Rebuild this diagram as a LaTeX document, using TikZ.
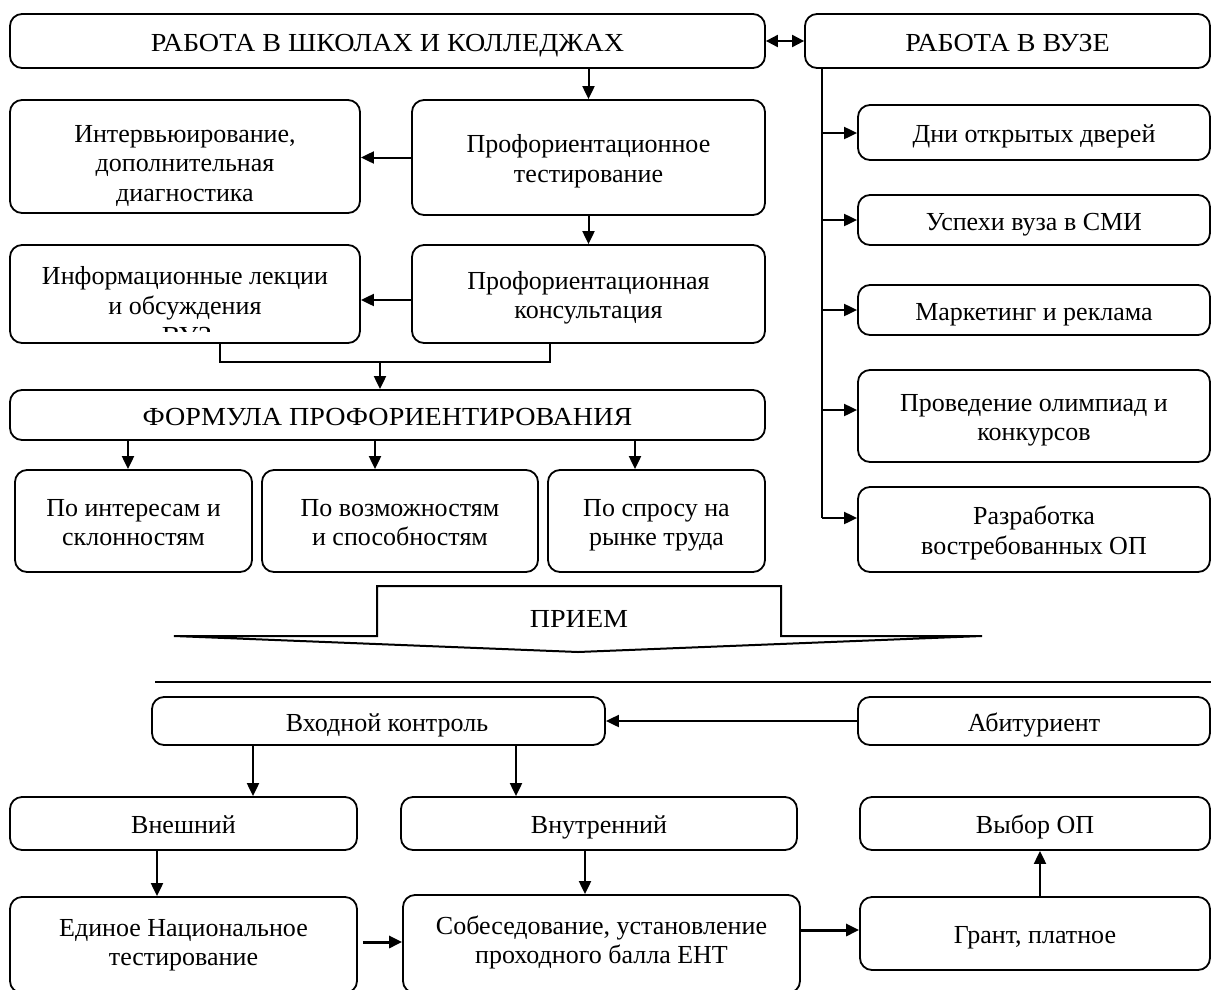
\documentclass[tikz,border=0pt]{standalone}
\usepackage{fontspec}
\setmainfont{Liberation Serif}
\newfontfamily\capsfont{Liberation Serif}[FakeStretch=1.08]
\usetikzlibrary{arrows.meta}
\newcommand{\boxfont}{\fontsize{26}{29.5}\selectfont}
\tikzset{
  box/.style={draw, line width=1.8pt, rounded corners=12pt, align=center,
    inner sep=0pt, font=\boxfont, text height=26pt, text depth=6pt},
  lines2/.style={text height=55.5pt},
  lines3/.style={text height=95pt},
  caps/.style={font=\capsfont\boxfont},
  lbl/.style={align=center, inner sep=0pt, font=\boxfont, text height=26pt, text depth=6pt},
  conn/.style={line width=2pt},
  arr/.style={line width=2pt, -{Triangle[length=13pt,width=12pt]}},
  arrboth/.style={line width=2pt, {Triangle[length=12pt,width=12pt]}-{Triangle[length=12pt,width=12pt]}},
}
\begin{document}
\begin{tikzpicture}[x=1pt,y=-1pt]
\useasboundingbox (0,0) rectangle (1211,989);
\clip (0,0) rectangle (1211,989);

% ---------- upper part: career guidance ----------
\node[box, caps, minimum width=755, minimum height=54] (school) at (387.5,41) {РАБОТА В ШКОЛАХ И КОЛЛЕДЖАХ};
\node[box, caps, minimum width=405, minimum height=54] (uni) at (1007.5,41) {РАБОТА В ВУЗЕ};

\node[box, lines3, minimum width=350, minimum height=113] (interv) at (185,156.5)
  {Интервьюирование,\\дополнительная\\диагностика};
\node[box, lines2, minimum width=353, minimum height=115] (test) at (588.5,157.5)
  {Профориентационное\\тестирование};

\node[box, minimum width=350, minimum height=98] (lect) at (185,294) {};
\node[lbl, lines2] (lecttext) at (185,289.5) {Информационные лекции\\и обсуждения};
\begin{scope}
  \clip (150,326) rectangle (230,331.5);
  \node[font=\capsfont\boxfont, inner sep=0pt, anchor=base] (lectcut) at (187,344) {ВУЗ};
\end{scope}
\node[box, lines2, minimum width=353, minimum height=98] (cons) at (588.5,294)
  {Профориентационная\\консультация};

\node[box, caps, minimum width=755, minimum height=50] (formula) at (387.5,415)
  {ФОРМУЛА ПРОФОРИЕНТИРОВАНИЯ};

\node[box, lines2, minimum width=237, minimum height=102] (p1) at (133.5,521) {По интересам и\\склонностям};
\node[box, lines2, minimum width=276, minimum height=102] (p2) at (400,521) {По возможностям\\и способностям};
\node[box, lines2, minimum width=217, minimum height=102] (p3) at (656.5,521) {По спросу на\\рынке труда};

% university column
\node[box, minimum width=352, minimum height=55] (r1) at (1034,132.5) {Дни открытых дверей};
\node[box, minimum width=352, minimum height=50] (r2) at (1034,220) {Успехи вуза в СМИ};
\node[box, minimum width=352, minimum height=50] (r3) at (1034,310) {Маркетинг и реклама};
\node[box, lines2, minimum width=352, minimum height=92] (r4) at (1034,416) {Проведение олимпиад и\\конкурсов};
\node[box, lines2, minimum width=352, minimum height=85] (r5) at (1034,529.5) {Разработка\\востребованных ОП};

% connectors of the upper part
\draw[arrboth] (school.east) -- (uni.west);
\draw[arr] (school.south -| test.north) -- (test.north);
\draw[arr] (test.west) -- (test.west -| interv.east);
\draw[arr] (test.south) -- (cons.north);
\draw[arr] ([yshift=-6pt]cons.west) -- ([yshift=-6pt]cons.west -| lect.east);

\coordinate (jl) at (220,362);
\coordinate (jr) at (550,362);
\coordinate (jm) at (380,362);
\draw[conn] (lect.south -| jl) -- (jl) -- (jr) -- (cons.south -| jr);
\draw[arr] (jm) -- (jm |- formula.north);

\coordinate (f1) at (128,0);
\coordinate (f2) at (375,0);
\coordinate (f3) at (635,0);
\draw[arr] (formula.south -| f1) -- (p1.north -| f1);
\draw[arr] (formula.south -| f2) -- (p2.north -| f2);
\draw[arr] (formula.south -| f3) -- (p3.north -| f3);

\coordinate (vtop) at (822,68);
\coordinate (v1) at (822,133);
\coordinate (v2) at (822,220);
\coordinate (v3) at (822,310);
\coordinate (v4) at (822,410);
\coordinate (v5) at (822,518);
\draw[conn] (uni.south -| vtop) -- (v5);
\draw[arr] (v1) -- (v1 -| r1.west);
\draw[arr] (v2) -- (v2 -| r2.west);
\draw[arr] (v3) -- (v3 -| r3.west);
\draw[arr] (v4) -- (v4 -| r4.west);
\draw[arr] (v5) -- (v5 -| r5.west);

% ---------- admission block arrow ----------
\draw[line width=2pt, line join=miter] (174,636) -- (377,636) -- (377,586) -- (781,586)
  -- (781,636) -- (982,636) -- (578,652) -- cycle;
\node[lbl, caps] (priem) at (579,617) {ПРИЕМ};

\coordinate (sepl) at (155,682);
\coordinate (sepr) at (1215,682);
\draw[line width=2pt] (sepl) -- (sepr);

% ---------- lower part: admission ----------
\node[box, minimum width=453, minimum height=48] (entry) at (378.5,721) {};
\node[lbl] (entrytext) at (387,721) {Входной контроль};
\node[box, minimum width=352, minimum height=48] (abit) at (1034,721) {Абитуриент};

\node[box, minimum width=347, minimum height=53] (ext) at (183.5,823.5) {Внешний};
\node[box, minimum width=396, minimum height=53] (int) at (599,823.5) {Внутренний};
\node[box, minimum width=350, minimum height=53] (choice) at (1035,823.5) {Выбор ОП};

\node[box, minimum width=347, minimum height=96] (ent) at (183.5,945) {};
\node[lbl, lines2] (enttext) at (183.5,941) {Единое Национальное\\тестирование};
\node[box, minimum width=397, minimum height=98] (sob) at (601.5,944) {};
\node[lbl, lines2] (sobtext) at (601.5,939) {Собеседование, установление\\проходного балла ЕНТ};
\node[box, minimum width=350, minimum height=73] (grant) at (1035,933.5) {Грант, платное};

\draw[arr] (abit.west) -- (entry.east);

\coordinate (b1) at (253,0);
\coordinate (b2) at (516,0);
\coordinate (b3) at (157,0);
\coordinate (b4) at (585,0);
\coordinate (b5) at (1040,0);
\draw[arr] (entry.south -| b1) -- (ext.north -| b1);
\draw[arr] (entry.south -| b2) -- (int.north -| b2);
\draw[arr] (ext.south -| b3) -- (ent.north -| b3);
\draw[arr] (int.south -| b4) -- (sob.north -| b4);
\draw[arr] (grant.north -| b5) -- (choice.south -| b5);

\coordinate (h1) at (0,942);
\coordinate (h2) at (0,930);
\draw[arr, line width=3pt] ([xshift=5pt]ent.east |- h1) -- (sob.west |- h1);
\draw[arr, line width=3pt] (sob.east |- h2) -- (grant.west |- h2);

\end{tikzpicture}
\end{document}
